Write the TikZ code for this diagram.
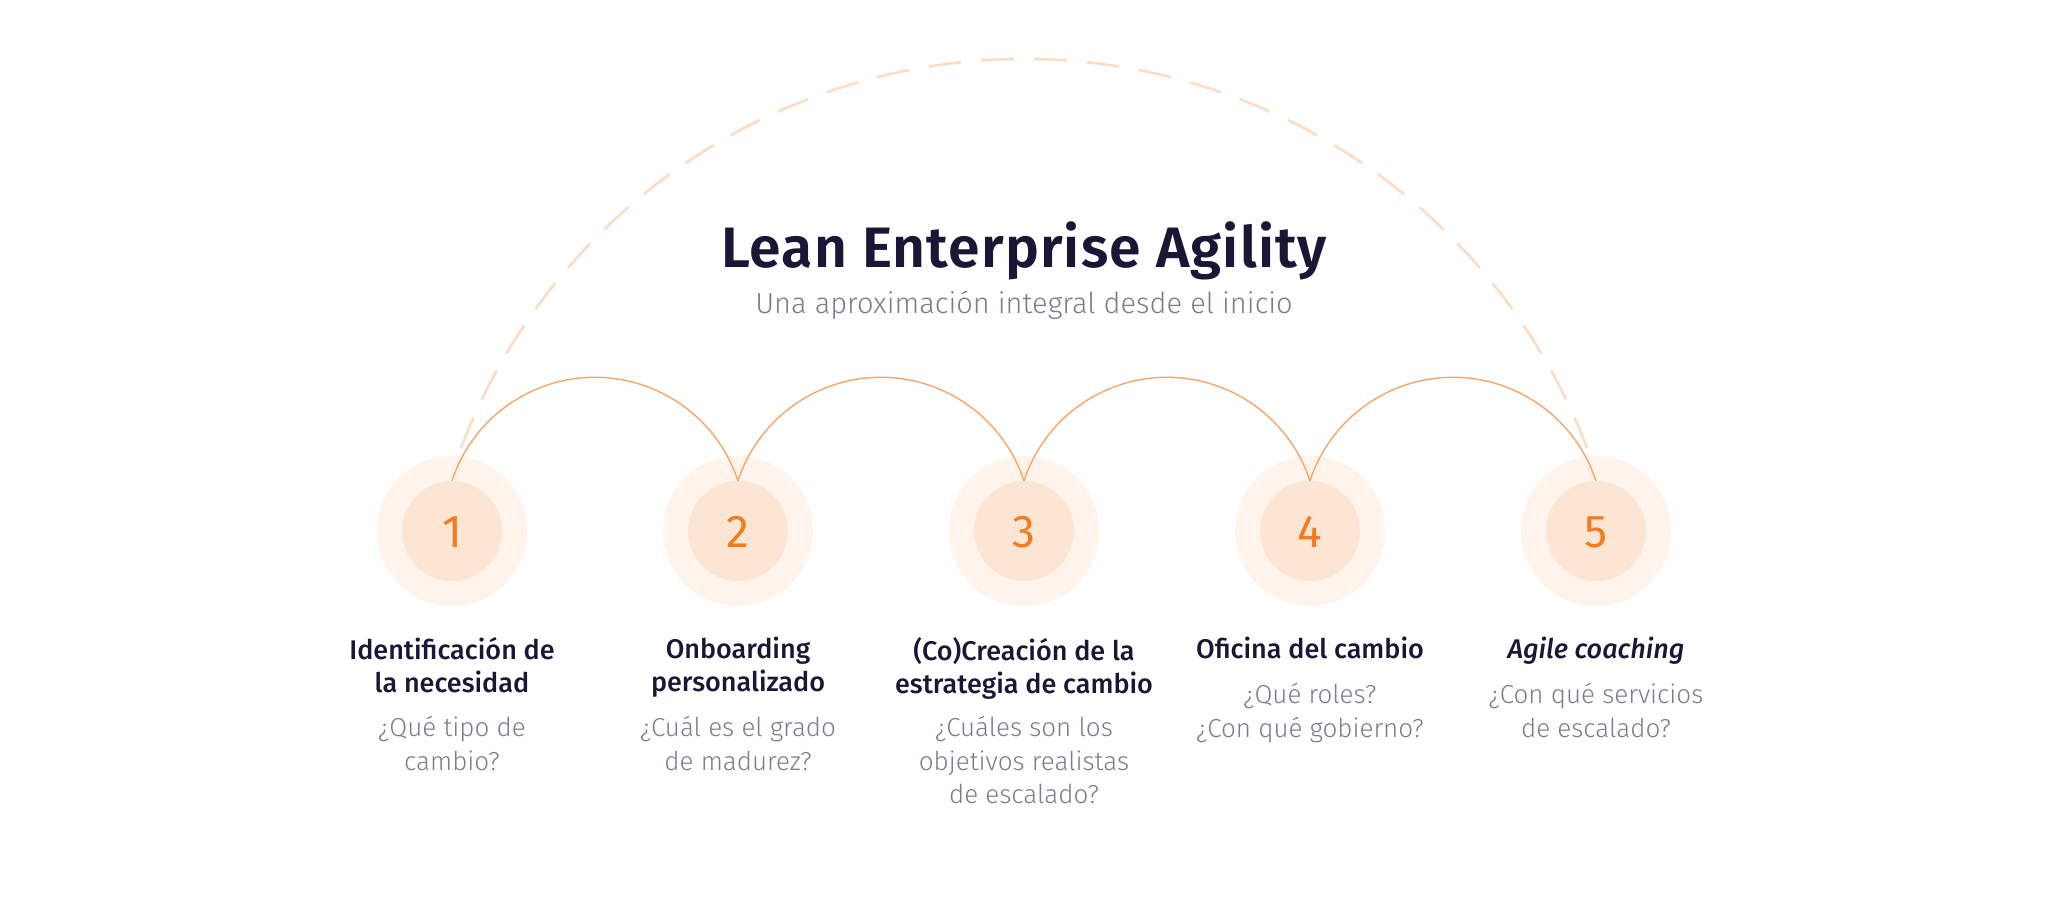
\documentclass[tikz,border=0pt]{standalone}
\usepackage{fontspec}
\setmainfont{Fira Sans}
\newfontfamily\lightfont{Fira Sans Light}
\newfontfamily\medfont{Fira Sans Medium}
\newfontfamily\semifont[LetterSpace=2]{Fira Sans SemiBold}
\definecolor{navy}{HTML}{1C1636}
\definecolor{qgray}{HTML}{7D7C8F}
\definecolor{numorange}{HTML}{F47C20}
\definecolor{arcorange}{HTML}{F6A66A}
\definecolor{peach}{HTML}{FDDCC2}
\definecolor{outerfill}{HTML}{FEF4EC}
\definecolor{innerfill}{HTML}{FDE5D3}
\begin{document}
\begin{tikzpicture}[x=1pt,y=-1pt,
  outercirc/.style={circle,fill=outerfill,minimum size=150pt,inner sep=0pt},
  innercirc/.style={circle,fill=innerfill,minimum size=100pt,inner sep=0pt},
  numtext/.style={font=\fontsize{46}{46}\selectfont,text=numorange,inner sep=0pt},
  arcline/.style={draw=arcorange,line width=1.4pt},
  dasharc/.style={draw=peach,line width=2.6pt,dash pattern=on 32.7pt off 20pt},
  steptitle/.style={font=\medfont\fontsize{27}{33}\selectfont,text=navy,align=center,inner sep=0pt,anchor=north},
  stepq/.style={font=\lightfont\fontsize{26}{33.5}\selectfont,text=qgray,align=center,inner sep=0pt,anchor=north}]
\fill[white] (0,0) rectangle (2049,901);
\useasboundingbox (0,0) rectangle (2049,901);

% big dashed arc (drawn first, behind the circles)
\coordinate (dstart) at (461,448);
\coordinate (dend) at (1587,448);
\draw[dasharc] (dstart) arc[start angle=-159.28, end angle=-20.72, radius=601.9];

\node[font=\semifont\fontsize{57}{57}\selectfont,text=navy,anchor=base,inner sep=0pt] (title) at (1024,268) {Lean Enterprise Agility};
\node[font=\lightfont\fontsize{29}{29}\selectfont,text=qgray,anchor=base,inner sep=0pt] (subtitle) at (1024,313) {Una aproximación integral desde el inicio};

\foreach \i/\x in {1/452,2/738,3/1024,4/1310,5/1596}{
  \node[outercirc] (o\i) at (\x,531) {};
  \node[innercirc] (c\i) at (\x,531) {};
  \node[numtext] (n\i) at (\x,532) {\i};
}

\foreach \i/\j in {1/2,2/3,3/4,4/5}{
  \draw[arcline] (c\i.north) arc[start angle=-161.8, end angle=-18.2, radius=150.5];
}

\node[steptitle] (t1) at (452,637) {Identificación de\\la necesidad};
\node[steptitle] (t2) at (738,637) {Onboarding\\personalizado};
\node[steptitle] (t3) at (1024,637) {(Co)Creación de la\\estrategia de cambio};
\node[steptitle] (t4) at (1310,637) {Oficina del cambio};
\node[steptitle] (t5) at (1596,637) {\textit{Agile coaching}};

\node[stepq] (q1) at (452,716) {¿Qué tipo de\\cambio?};
\node[stepq] (q2) at (738,716) {¿Cuál es el grado\\de madurez?};
\node[stepq] (q3) at (1024,716) {¿Cuáles son los\\objetivos realistas\\de escalado?};
\node[stepq] (q4) at (1310,683) {¿Qué roles?\\¿Con qué gobierno?};
\node[stepq] (q5) at (1596,683) {¿Con qué servicios\\de escalado?};
\end{tikzpicture}
\end{document}
